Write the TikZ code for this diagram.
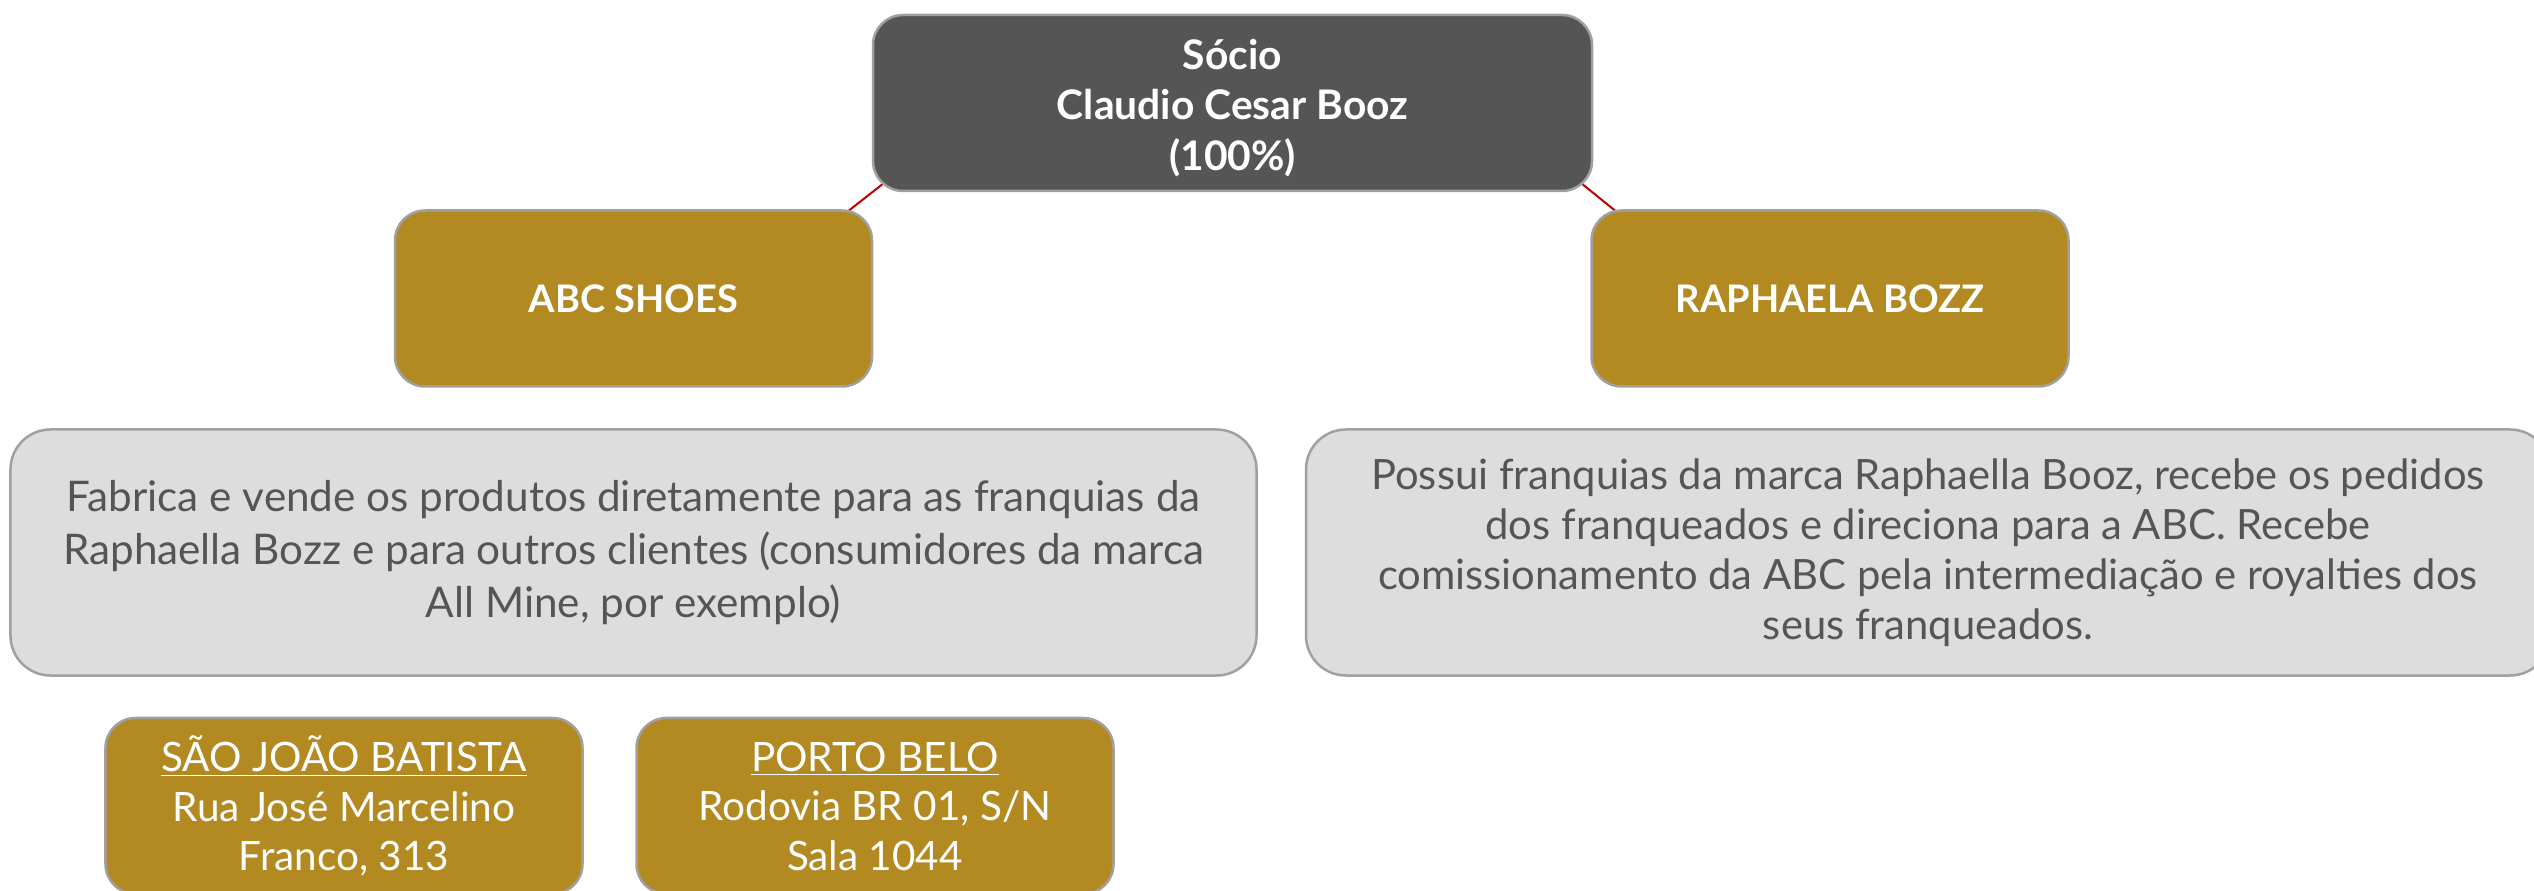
\documentclass[tikz,border=0pt]{standalone}
\usepackage{fontspec}
\setmainfont{Lato}
\usetikzlibrary{calc}
\definecolor{darkbox}{RGB}{85,85,85}
\definecolor{goldfill}{RGB}{179,137,34}
\definecolor{lightbox}{RGB}{221,221,221}
\definecolor{edgegray}{RGB}{160,160,160}
\definecolor{txtgray}{RGB}{85,85,85}
\definecolor{linkred}{RGB}{192,0,0}
\pgfdeclarelayer{bg}
\pgfsetlayers{bg,main}
\begin{document}
\begin{tikzpicture}[x=0.4pt,y=-0.4pt,
  box/.style={draw=edgegray, line width=1pt, rounded corners=12pt, align=center, inner sep=0pt,
    font=\fontsize{16.2pt}{19.8pt}\selectfont},
  topbox/.style={box, fill=darkbox, text=white, minimum width=287.6pt, minimum height=70.4pt,
    font=\fontsize{16.3pt}{20.2pt}\selectfont\bfseries},
  goldbox/.style={box, fill=goldfill, text=white, minimum width=190.8pt, minimum height=70.4pt},
  titlebox/.style={goldbox, font=\fontsize{15.2pt}{20pt}\selectfont\bfseries},
  infobox/.style={box, fill=lightbox, text=txtgray, rounded corners=16pt, minimum height=98.4pt},
  linkline/.style={draw=linkred, line width=0.8pt}]
\clip (0,0) rectangle (2534,891);
\node[topbox] (top) at (1232.5,103) {\rule{0pt}{16pt}Sócio\\Claudio Cesar Booz\\(100\%)};
\node[titlebox] (abc) at (633.5,298.5) {ABC SHOES};
\node[titlebox] (raph) at (1830,298.5) {RAPHAELA BOZZ};
\node[infobox, minimum width=498.4pt, font=\fontsize{16.9pt}{21.2pt}\selectfont] (gl) at (633.5,552.5)
  {Fabrica e vende os produtos diretamente para as franquias da\\Raphaella Bozz e para outros clientes (consumidores da marca\\All Mine, por exemplo)};
\node[infobox, minimum width=497.6pt, font=\fontsize{16.7pt}{20pt}\selectfont] (gr) at (1928,552.5)
  {Possui franquias da marca Raphaella Booz, recebe os pedidos\\dos franqueados e direciona para a ABC. Recebe\\comissionamento da ABC pela intermediação e royalties dos\\seus franqueados.};
\node[goldbox] (sao) at (344,806) {\underline{SÃO JOÃO BATISTA}\\Rua José Marcelino\\Franco, 313};
\node[goldbox] (porto) at (875,806) {\underline{PORTO BELO}\\Rodovia BR 01, S/N\\Sala 1044};
\begin{pgfonlayer}{bg}
\draw[linkline] ($(top.south west)+(14.5,-11)$) -- ($(abc.north east)+(-35.5,10)$);
\draw[linkline] ($(top.south east)+(-14.5,-11)$) -- ($(raph.north west)+(35.5,10)$);
\draw[linkline] ($(abc.south)+(2.5,0)$) -- ($(abc.south)+(2.5,0)$ |- gl.north);
\draw[linkline] ($(raph.south)+(8,0)$) -- ($(raph.south)+(8,0)$ |- gr.north);
\draw[linkline] ($(sao.north)+(-9,0)$) -- ($(sao.north)+(-9,0)$ |- gl.south);
\draw[linkline] ($(porto.north)+(-2,0)$) -- ($(porto.north)+(-2,0)$ |- gl.south);
\end{pgfonlayer}
\end{tikzpicture}
\end{document}
